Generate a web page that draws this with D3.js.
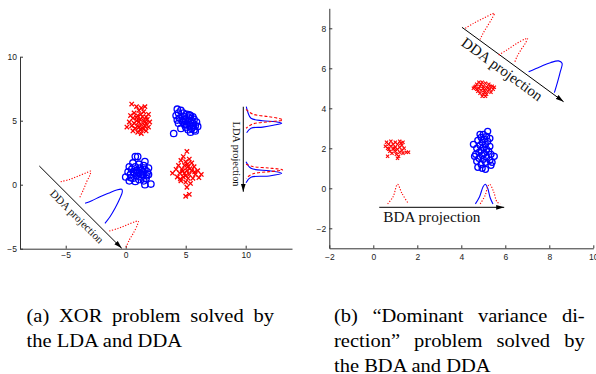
<!DOCTYPE html>
<html>
<head>
<meta charset="utf-8">
<script src="https://cdn.jsdelivr.net/npm/d3@7"></script>
<style>
  body { margin: 0; background: #fff; }
  .tick text { font-family: "Liberation Sans", Arial, sans-serif; font-size: 8.5px; fill: #222; }
  .tick line, .domain { stroke: #333; }
</style>
</head>
<body>
<div id="chart"></div>
<script>
// ---- data ----
// (a) XOR problem
const xorXTicks = [-5, 0, 5, 10];
const xorYTicks = [-5, 0, 5, 10];
const xorRedA = [[0.5,6.3],[0.9,6.1],[1.3,6.0],[1.6,6.1],[1.1,5.8],[1.5,5.7],[0.7,5.6],[1.9,5.5],[0.4,5.4],[1.0,5.4],[1.4,5.3],[1.7,5.3],[0.6,5.2],[1.2,5.1],[1.8,5.1],[0.9,5.0],[1.5,5.0],[0.3,4.9],[1.1,4.9],[1.7,4.8],[2.0,4.9],[0.7,4.8],[1.3,4.7],[0.5,4.6],[1.0,4.6],[1.6,4.6],[0.1,4.5],[1.9,4.5],[0.8,4.4],[1.4,4.4],[1.2,4.3],[0.6,4.2],[1.7,4.2],[1.0,4.1],[1.3,4.0],[1.5,4.35],[0.9,5.25],[1.25,5.5],[1.6,4.9],[1.1,4.5]];
const xorBlueA = [[4.3,5.9],[4.6,5.8],[4.4,5.6],[4.2,5.4],[4.8,5.6],[5.1,5.5],[5.4,5.4],[4.9,5.3],[5.3,5.2],[5.7,5.1],[4.5,5.2],[5.0,5.1],[5.5,5.0],[5.9,4.9],[4.7,5.0],[5.2,4.9],[5.6,4.8],[4.4,4.8],[4.9,4.7],[5.3,4.6],[5.8,4.6],[5.0,4.5],[5.5,4.4],[4.6,4.4],[5.2,4.3],[5.7,4.3],[5.4,4.1],[5.8,4.2],[4.0,4.0],[5.1,4.7],[5.4,4.85],[4.8,4.9],[5.6,5.3],[4.3,5.05],[6.0,4.55],[5.3,5.45],[5.0,4.95],[5.65,4.6]];
const xorBlueB = [[0.8,2.2],[1.0,2.2],[1.6,1.8],[0.6,1.7],[1.1,1.6],[1.5,1.5],[0.3,1.4],[0.8,1.4],[1.9,1.3],[1.2,1.3],[0.5,1.2],[1.6,1.2],[0.9,1.1],[1.4,1.0],[0.2,1.0],[1.8,1.0],[0.7,0.9],[1.1,0.9],[1.5,0.8],[0.4,0.8],[1.9,0.8],[0.9,0.7],[1.3,0.6],[0.0,0.6],[1.7,0.5],[0.6,0.5],[1.1,0.4],[0.3,0.3],[1.5,0.3],[0.8,0.25],[1.6,0.0],[2.1,0.05],[1.0,1.0],[1.3,1.15],[0.65,1.0],[1.25,0.8],[1.75,0.7],[0.45,0.55]];
const xorRedB = [[5.1,2.6],[4.8,2.2],[5.3,2.0],[4.6,1.9],[5.0,1.8],[5.5,1.7],[4.4,1.5],[4.9,1.5],[5.2,1.4],[5.7,1.4],[4.2,1.2],[4.7,1.2],[5.1,1.1],[5.5,1.1],[6.0,1.1],[3.9,0.9],[4.5,0.9],[4.9,0.9],[5.3,0.8],[5.8,0.8],[6.3,0.8],[4.3,0.6],[4.8,0.6],[5.2,0.5],[5.6,0.5],[6.1,0.55],[4.6,0.3],[5.0,0.2],[5.4,0.1],[5.1,-0.2],[5.0,-0.9],[5.3,-0.75],[4.75,1.05],[5.35,1.25],[5.0,0.7],[4.55,0.45],[5.75,1.0],[5.15,1.6]];
const xorDdaArrow = [[-7.2,1.46],[-0.33,-4.97]];
const xorLdaArrow = [[9.8,6.09],[9.8,-0.55]];
const xorDdaRed1 = [[-5.42,0.23],[-4.64,0.42],[-3.95,0.68],[-3.25,0.94],[-2.92,1.05],[-2.98,0.76],[-3.25,0.23],[-3.53,-0.41],[-3.87,-1.06]];
const xorDdaBlue = [[-3.39,-1.45],[-2.83,-1.25],[-2.14,-0.94],[-1.45,-0.67],[-0.75,-0.41],[-0.33,-0.36],[-0.28,-0.55],[-0.48,-1.06],[-0.89,-1.84],[-1.31,-2.5],[-1.73,-3.02]];
const xorDdaRed2 = [[-1.37,-3.62],[-0.62,-3.41],[0.08,-3.15],[0.78,-2.89],[1.05,-2.84],[0.97,-3.15],[0.63,-3.8],[0.3,-4.32],[0.03,-4.89]];
const xorLdaBlue1 = [[10.05,6.09],[10.2,5.6],[10.44,5.19],[11.4,5.0],[12.5,4.92],[13.0,4.8],[12.3,4.64],[11.42,4.5],[10.44,4.41],[10.08,4.06]];
const xorLdaRed1 = [[10.03,5.89],[10.58,5.52],[11.97,5.31],[12.94,5.13],[13.08,5.05],[11.97,4.92],[10.58,4.74],[10.03,4.41]];
const xorLdaBlue2 = [[10.03,1.8],[10.44,1.28],[11.97,1.09],[13.0,0.89],[11.97,0.68],[10.44,0.58],[10.03,0.16]];
const xorLdaRed2 = [[10.03,1.6],[10.58,1.42],[11.97,1.3],[12.94,1.2],[13.08,1.15],[11.97,1.02],[10.58,0.84],[10.03,0.5]];

// (b) dominant variance direction
const dvXTicks = [-2, 0, 2, 4, 6, 8, 10];
const dvYTicks = [-2, 0, 2, 4, 6, 8];
const dvRedA = [[0.6,2.3],[0.8,2.35],[1.0,2.3],[1.2,2.35],[1.35,2.3],[0.7,2.2],[0.9,2.2],[1.1,2.2],[1.3,2.15],[0.55,2.1],[0.8,2.1],[1.0,2.05],[1.2,2.05],[1.4,2.0],[0.65,2.0],[0.9,1.95],[1.1,1.95],[1.3,1.9],[0.75,1.85],[1.0,1.85],[1.2,1.8],[1.5,1.8],[0.85,1.75],[1.05,1.7],[0.65,1.6],[1.15,1.6],[1.1,1.5],[0.95,2.0],[1.25,2.25],[0.7,1.95],[1.6,1.8],[1.35,1.75]];
const dvRedB = [[4.6,5.05],[4.7,5.2],[4.8,5.3],[4.95,5.3],[5.1,5.25],[5.25,5.2],[5.4,5.1],[5.5,5.05],[4.55,5.0],[4.7,4.95],[4.85,5.1],[5.0,5.1],[5.15,5.05],[5.3,4.95],[5.45,4.95],[4.75,4.85],[4.9,4.9],[5.05,4.9],[5.2,4.85],[5.35,4.8],[4.85,4.75],[5.0,4.7],[5.15,4.7],[4.95,4.6],[5.1,4.6],[4.8,5.0],[5.0,5.0],[5.2,5.0],[4.65,5.1],[5.3,5.1],[4.9,5.2],[5.05,4.8]];
const dvBlue = [[5.2,2.85],[5.0,2.7],[5.15,2.6],[4.9,2.55],[5.05,2.45],[4.75,2.4],[5.2,2.35],[4.95,2.3],[4.55,2.2],[5.1,2.2],[4.85,2.15],[5.3,2.1],[5.0,2.05],[4.7,2.0],[5.15,1.95],[4.9,1.9],[5.25,1.85],[4.8,1.8],[5.05,1.75],[4.65,1.7],[5.35,1.7],[4.95,1.65],[5.5,1.6],[5.15,1.55],[4.8,1.5],[5.0,1.45],[5.3,1.4],[4.7,1.35],[5.1,1.3],[4.9,1.2],[5.35,1.15],[4.75,1.05],[5.1,0.95],[4.95,1.0],[5.4,1.3],[4.6,1.6],[4.85,2.7],[5.3,2.5]];
const dvDdaArrow = [[4.03,8.05],[8.65,4.33]];
const dvBdaArrow = [[0.27,-0.95],[5.95,-0.95]];
const dvDdaRed1 = [[4.18,8.0],[4.56,8.25],[5.01,8.5],[5.4,8.72],[5.5,8.75],[5.4,8.5],[5.17,8.08],[4.99,7.75],[4.86,7.45]];
const dvDdaRed2 = [[5.7,6.67],[6.08,6.92],[6.53,7.25],[6.91,7.47],[7.01,7.5],[6.91,7.25],[6.71,6.92],[6.53,6.58],[6.41,6.25]];
const dvDdaBlue = [[7.06,5.83],[7.59,6.08],[8.05,6.28],[8.42,6.37],[8.58,6.25],[8.5,5.83],[8.38,5.33],[8.27,4.92],[8.23,4.78]];
const dvBdaRed1 = [[0.65,-0.78],[0.9,-0.42],[1.1,0.2],[1.3,-0.25],[1.6,-0.78]];
const dvBdaBlue = [[4.64,-0.78],[4.83,-0.42],[4.99,0.08],[5.09,0.2],[5.2,0.0],[5.32,-0.5],[5.44,-0.78]];
const dvBdaRed2 = [[4.86,-0.78],[5.09,-0.34],[5.2,0.08],[5.29,0.2],[5.47,-0.17],[5.62,-0.67],[5.77,-0.78]];

const captionA = ["(a) XOR problem solved by", "the LDA and DDA"];
const captionB = ["(b) \u201cDominant variance di-", "rection\u201d problem solved by", "the BDA and DDA"];

// ---- drawing ----
const width = 596, height = 374;
const RED = "#ff0000", BLUE = "#0000ff";

const svg = d3.select("#chart").append("svg")
  .attr("width", width)
  .attr("height", height)
  .style("display", "block");

svg.append("rect").attr("width", width).attr("height", height).attr("fill", "#fff");

svg.append("defs").append("marker")
  .attr("id", "arrow")
  .attr("markerUnits", "userSpaceOnUse")
  .attr("markerWidth", 9).attr("markerHeight", 6)
  .attr("refX", 8).attr("refY", 3)
  .attr("orient", "auto")
  .append("path")
    .attr("d", "M0,0.6 L8,3 L0,5.4 Z")
    .attr("fill", "#000");

function drawAxes(x, y, xt, yt, pad) {
  const [x0] = x.range();
  const [y0] = y.range();
  svg.append("g")
    .attr("transform", `translate(0,${y0})`)
    .call(d3.axisBottom(x).tickValues(xt).tickSize(-3).tickSizeOuter(0).tickPadding(pad))
    .call(g => g.selectAll(".tick text").attr("dy", "0.71em"));
  svg.append("g")
    .attr("transform", `translate(${x0},0)`)
    .call(d3.axisLeft(y).tickValues(yt).tickSize(-3).tickSizeOuter(0).tickPadding(3));
}

function scatterX(x, y, pts, s, sw) {
  svg.append("g").selectAll("path").data(pts).enter().append("path")
    .attr("d", d => {
      const px = x(d[0]), py = y(d[1]);
      return `M${px-s},${py-s}L${px+s},${py+s}M${px-s},${py+s}L${px+s},${py-s}`;
    })
    .attr("stroke", RED).attr("stroke-width", sw).attr("fill", "none");
}

function scatterO(x, y, pts, r, sw) {
  svg.append("g").selectAll("circle").data(pts).enter().append("circle")
    .attr("cx", d => x(d[0])).attr("cy", d => y(d[1])).attr("r", r)
    .attr("stroke", BLUE).attr("stroke-width", sw).attr("fill", "none");
}

function curve(x, y, pts, color, dash) {
  const line = d3.line().x(d => x(d[0])).y(d => y(d[1])).curve(d3.curveCatmullRom.alpha(0.5));
  svg.append("path").datum(pts)
    .attr("d", line)
    .attr("fill", "none")
    .attr("stroke", color)
    .attr("stroke-width", 1.1)
    .attr("stroke-dasharray", dash || null);
}

function arrow(x, y, pts) {
  svg.append("line")
    .attr("x1", x(pts[0][0])).attr("y1", y(pts[0][1]))
    .attr("x2", x(pts[1][0])).attr("y2", y(pts[1][1]))
    .attr("stroke", "#000").attr("stroke-width", 1)
    .attr("marker-end", "url(#arrow)");
}

// label laid along an arrow: t = distance along, off = distance to the lower-left side
function arrowLabel(x, y, pts, text, size, t, off) {
  const ax = x(pts[0][0]), ay = y(pts[0][1]);
  const bx = x(pts[1][0]), by = y(pts[1][1]);
  const len = Math.hypot(bx - ax, by - ay);
  const ux = (bx - ax) / len, uy = (by - ay) / len;
  const nx = -uy, ny = ux;
  const ang = Math.atan2(uy, ux) * 180 / Math.PI;
  svg.append("text")
    .attr("transform", `translate(${ax + ux*t + nx*off},${ay + uy*t + ny*off}) rotate(${ang})`)
    .attr("font-family", "Liberation Serif, Times New Roman, serif")
    .attr("font-size", size)
    .attr("fill", "#111")
    .text(text);
}

// panel (a)
const xA = d3.scaleLinear().domain([-8.81, 13.86]).range([20, 292]);
const yA = d3.scaleLinear().domain([-5, 10]).range([248.7, 56.7]);
drawAxes(xA, yA, xorXTicks, xorYTicks, 3.5);

scatterX(xA, yA, xorRedA, 2.2, 1.3);
scatterX(xA, yA, xorRedB, 2.2, 1.3);
scatterO(xA, yA, xorBlueA, 3.2, 1.3);
scatterO(xA, yA, xorBlueB, 3.2, 1.3);

arrow(xA, yA, xorDdaArrow);
arrowLabel(xA, yA, xorDdaArrow, "DDA projection", 11, 27, 13);
curve(xA, yA, xorDdaRed1, RED, "1.2,1.6");
curve(xA, yA, xorDdaBlue, BLUE);
curve(xA, yA, xorDdaRed2, RED, "1.2,1.6");

arrow(xA, yA, xorLdaArrow);
curve(xA, yA, xorLdaBlue1, BLUE);
curve(xA, yA, xorLdaBlue2, BLUE);
curve(xA, yA, xorLdaRed1, RED, "3,2");
curve(xA, yA, xorLdaRed2, RED, "3,2");
svg.append("text")
  .attr("transform", `translate(${xA(9.8) - 10.6},${yA(4.93)}) rotate(90)`)
  .attr("font-family", "Liberation Serif, Times New Roman, serif")
  .attr("font-size", 10.3)
  .attr("fill", "#111")
  .text("LDA projection");

// panel (b)
const xB = d3.scaleLinear().domain([-2, 10]).range([329.3, 593.3]);
const yB = d3.scaleLinear().domain([-3, 9]).range([248.3, 8.3]);
drawAxes(xB, yB, dvXTicks, dvYTicks, 5.5);

scatterX(xB, yB, dvRedA, 1.6, 1.1);
scatterX(xB, yB, dvRedB, 1.6, 1.1);
scatterO(xB, yB, dvBlue, 3, 1.3);

arrow(xB, yB, dvDdaArrow);
arrowLabel(xB, yB, dvDdaArrow, "DDA projection", 15, 9, 15);
curve(xB, yB, dvDdaRed1, RED, "1.2,1.6");
curve(xB, yB, dvDdaRed2, RED, "1.2,1.6");
curve(xB, yB, dvDdaBlue, BLUE);

arrow(xB, yB, dvBdaArrow);
curve(xB, yB, dvBdaRed1, RED, "1.2,1.6");
curve(xB, yB, dvBdaBlue, BLUE);
curve(xB, yB, dvBdaRed2, RED, "1.2,1.6");
svg.append("text")
  .attr("x", xB(0.45)).attr("y", yB(-1.67))
  .attr("font-family", "Liberation Serif, Times New Roman, serif")
  .attr("font-size", 15.3)
  .attr("fill", "#111")
  .text("BDA projection");

// captions (justified like the paper's two-column layout)
const sx = 1.08;
function captionLine(x0, y0, w, text, justify) {
  const g = svg.append("g")
    .attr("transform", `translate(${x0},${y0}) scale(${sx},1)`)
    .attr("font-family", "Liberation Serif, Times New Roman, serif")
    .attr("font-size", 19)
    .attr("fill", "#000");
  if (!justify) { g.append("text").text(text); return; }
  const words = text.split(" ");
  const nodes = words.map(wd => g.append("text").text(wd));
  const lens = nodes.map(n => n.node().getComputedTextLength());
  const gap = (w / sx - d3.sum(lens)) / (words.length - 1);
  let cx = 0;
  nodes.forEach((n, i) => { n.attr("x", cx); cx += lens[i] + gap; });
}
captionA.forEach((t, i) => captionLine(26.5, 321.5 + i * 25, 247.5, t, i < captionA.length - 1));
captionB.forEach((t, i) => captionLine(334, 321.5 + i * 25, 250.7, t, i < captionB.length - 1));
</script>
</body>
</html>
